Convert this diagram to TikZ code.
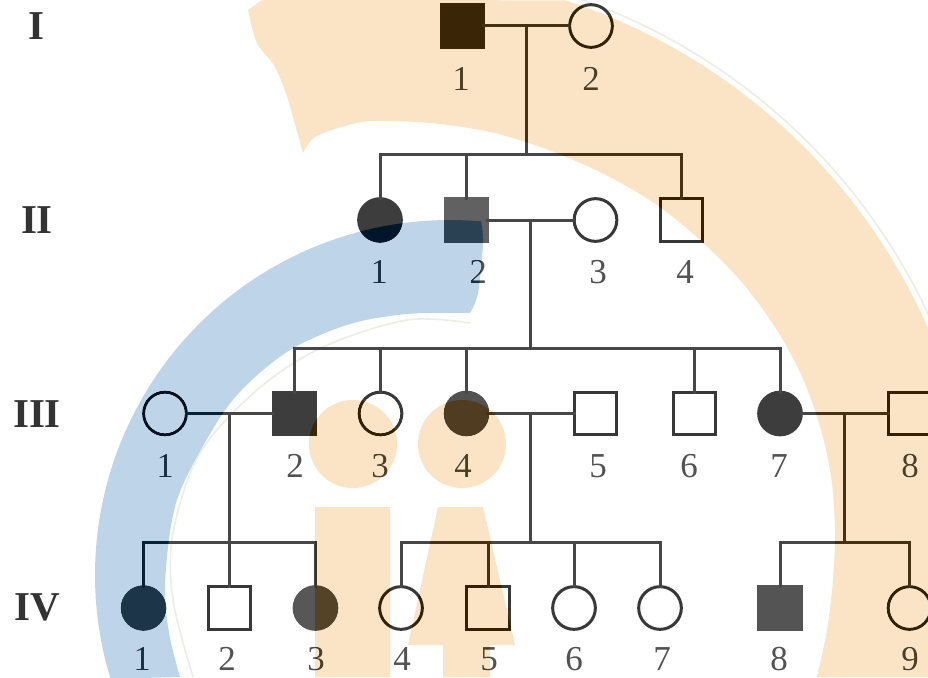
\documentclass[tikz,border=0pt]{standalone}
\usepackage{fontspec}
\setmainfont{Liberation Serif}
\definecolor{wmorange}{RGB}{251,227,198}
\definecolor{wmblue}{RGB}{189,212,233}
\definecolor{palewm}{RGB}{236,238,230}
\newcommand{\orangearc}{%
  plot[smooth,tension=.55] coordinates {(248,10) (257,43) (275,67) (288,100) (303,153)}
  -- plot[smooth,tension=.55] coordinates {(303,153) (315,137) (345,126) (372,121) (430,123) (490,132) (546,149) (602,173) (654,203) (699,239) (739,279) (773,324) (800,372) (819,423) (831,476) (835,530) (833,580) (827,630) (817,677)}
  -- (990,677)
  -- plot[domain=-10:72,samples=60,smooth] ({380+599*cos(\x)},{570-599*sin(\x)})
  -- (262,0) -- cycle}
\newcommand{\bluearc}{%
  plot[domain=85:197,samples=60,smooth] ({450+355*cos(\x)},{575-355*sin(\x)})
  -- plot[smooth,tension=.55] coordinates {(180,677) (169,633) (165,585) (172,520) (186,478) (223,413) (254,378) (290,350) (325,333) (357,322) (390,316) (423,313) (470,313)}
  -- plot[smooth,tension=.55] coordinates {(470,313) (478,293) (483,243) (481,221)} -- cycle}
\newcommand{\figures}{%
  (353,444) circle[radius=44] (462,444) circle[radius=44]
  (315,507) rectangle (390,677)
  (438,507) -- (483,507) -- (515,645) -- (490,645) -- (490,677) -- (443,677) -- (443,645) -- (408,645) -- cycle}
\tikzset{
  sq/.style={rectangle,draw=black!78,line width=3pt,inner sep=0pt,outer sep=0pt,minimum size=42.7pt},
  ci/.style={circle,draw=black!78,line width=3pt,inner sep=0pt,outer sep=0pt,minimum size=42.7pt},
  filled/.style={fill=black!#1,draw=black!#1},
  conn/.style={draw=black!72,line width=3pt,line cap=rect},
  num/.style={text=black!68,font=\fontsize{35}{35}\selectfont,inner sep=0pt},
  gen/.style={text=black!80,font=\bfseries\fontsize{41}{41}\selectfont,inner sep=0pt},
  pale/.style={draw=palewm,line width=1.6pt}
}
\begin{document}
\begin{tikzpicture}[x=1pt,y=-1pt]
\useasboundingbox (0,0) rectangle (928,677);
\fill[white] (-5,-5) rectangle (995,690);
% generation labels
\node[gen] (gI) at (36,26) {I};
\node[gen] (gII) at (37,220) {II};
\node[gen] (gIII) at (37,414) {III};
\node[gen] (gIV) at (37,607) {IV};
% generation I
\node[sq,filled=76] (I1) at (462.5,26) {};
\node[ci] (I2) at (591,26) {};
% generation II
\node[ci,filled=76] (II1) at (380,220) {};
\node[sq,filled=62] (II2) at (466.5,220) {};
\node[ci] (II3) at (595.5,220) {};
\node[sq] (II4) at (681.5,220) {};
% generation III
\node[ci] (III1) at (165,413.5) {};
\node[sq,filled=76] (III2) at (294.5,413.5) {};
\node[ci] (III3) at (380.5,413.5) {};
\node[ci,filled=68] (III4) at (466.5,413.5) {};
\node[sq] (III5) at (595.5,413.5) {};
\node[sq] (III6) at (694.5,413.5) {};
\node[ci,filled=76] (III7) at (780,413.5) {};
\node[sq] (III8) at (909.5,413.5) {};
% generation IV
\node[ci,filled=66] (IV1) at (143.5,608) {};
\node[sq] (IV2) at (229.5,608) {};
\node[ci,filled=66] (IV3) at (315.5,608) {};
\node[ci] (IV4) at (401,608) {};
\node[sq] (IV5) at (488,608) {};
\node[ci] (IV6) at (574,608) {};
\node[ci] (IV7) at (660,608) {};
\node[sq,filled=67] (IV8) at (780,608) {};
\node[ci] (IV9) at (909.5,608) {};
% junctions
\coordinate (m1) at (526,26);
\coordinate (b1) at (526,154.5);
\coordinate (m2) at (530.5,220);
\coordinate (b2) at (530.5,348.5);
\coordinate (m3) at (229.5,413.5);
\coordinate (b3) at (229.5,542.5);
\coordinate (m4) at (530.5,413.5);
\coordinate (b4) at (530.5,542.5);
\coordinate (m5) at (844.5,413.5);
\coordinate (b5) at (844.5,542.5);
% connectors
\draw[conn] (I1) -- (I2);
\draw[conn] (m1) -- (b1);
\draw[conn] (II1.north) |- (b1) -| (II4.north);
\draw[conn] (II2.north) -- (II2.north |- b1);
\draw[conn] (II2) -- (II3);
\draw[conn] (m2) -- (b2);
\draw[conn] (III2.north) |- (b2) -| (III7.north);
\draw[conn] (III3.north) -- (III3.north |- b2);
\draw[conn] (III4.north) -- (III4.north |- b2);
\draw[conn] (III6.north) -- (III6.north |- b2);
\draw[conn] (III1) -- (III2);
\draw[conn] (m3) -- (b3);
\draw[conn] (IV1.north) |- (b3) -| (IV3.north);
\draw[conn] (IV2.north) -- (b3);
\draw[conn] (III4) -- (III5);
\draw[conn] (m4) -- (b4);
\draw[conn] (IV4.north) |- (b4) -| (IV7.north);
\draw[conn] (IV5.north) -- (IV5.north |- b4);
\draw[conn] (IV6.north) -- (IV6.north |- b4);
\draw[conn] (III7) -- (III8);
\draw[conn] (m5) -- (b5);
\draw[conn] (IV8.north) |- (b5) -| (IV9.north);
% individual numbers
\node[num] (nI1) at (461,79) {1};
\node[num] (nI2) at (591,79) {2};
\node[num] (nII1) at (379,272) {1};
\node[num] (nII2) at (478,272) {2};
\node[num] (nII3) at (598,272) {3};
\node[num] (nII4) at (685,272) {4};
\node[num] (nIII1) at (165,466) {1};
\node[num] (nIII2) at (295,466) {2};
\node[num] (nIII3) at (380,466) {3};
\node[num] (nIII4) at (463,466) {4};
\node[num] (nIII5) at (598,466) {5};
\node[num] (nIII6) at (689,466) {6};
\node[num] (nIII7) at (779,466) {7};
\node[num] (nIII8) at (910,466) {8};
\node[num] (nIV1) at (142,659) {1};
\node[num] (nIV2) at (227,659) {2};
\node[num] (nIV3) at (316,659) {3};
\node[num] (nIV4) at (402,659) {4};
\node[num] (nIV5) at (489,659) {5};
\node[num] (nIV6) at (574,659) {6};
\node[num] (nIV7) at (662,659) {7};
\node[num] (nIV8) at (779,659) {8};
\node[num] (nIV9) at (910,659) {9};
% watermark: first burns into the dark ink, then tints the white paper
\begin{scope}[blend mode=color burn]
  \fill[wmorange] \orangearc;
  \fill[wmorange] \figures;
  \fill[wmblue] \bluearc;
\end{scope}
\begin{scope}[blend mode=darken]
  \fill[wmorange] \orangearc;
  \fill[wmorange] \figures;
  \fill[wmblue] \bluearc;
  \draw[pale] plot[domain=20:72,samples=40,smooth] ({380+605*cos(\x)},{570-605*sin(\x)});
  \draw[pale] plot[smooth,tension=.55] coordinates {(470,323) (407,320) (323,347) (257,390) (200,453) (173,533) (173,600) (193,677)};
\end{scope}
\end{tikzpicture}
\end{document}
